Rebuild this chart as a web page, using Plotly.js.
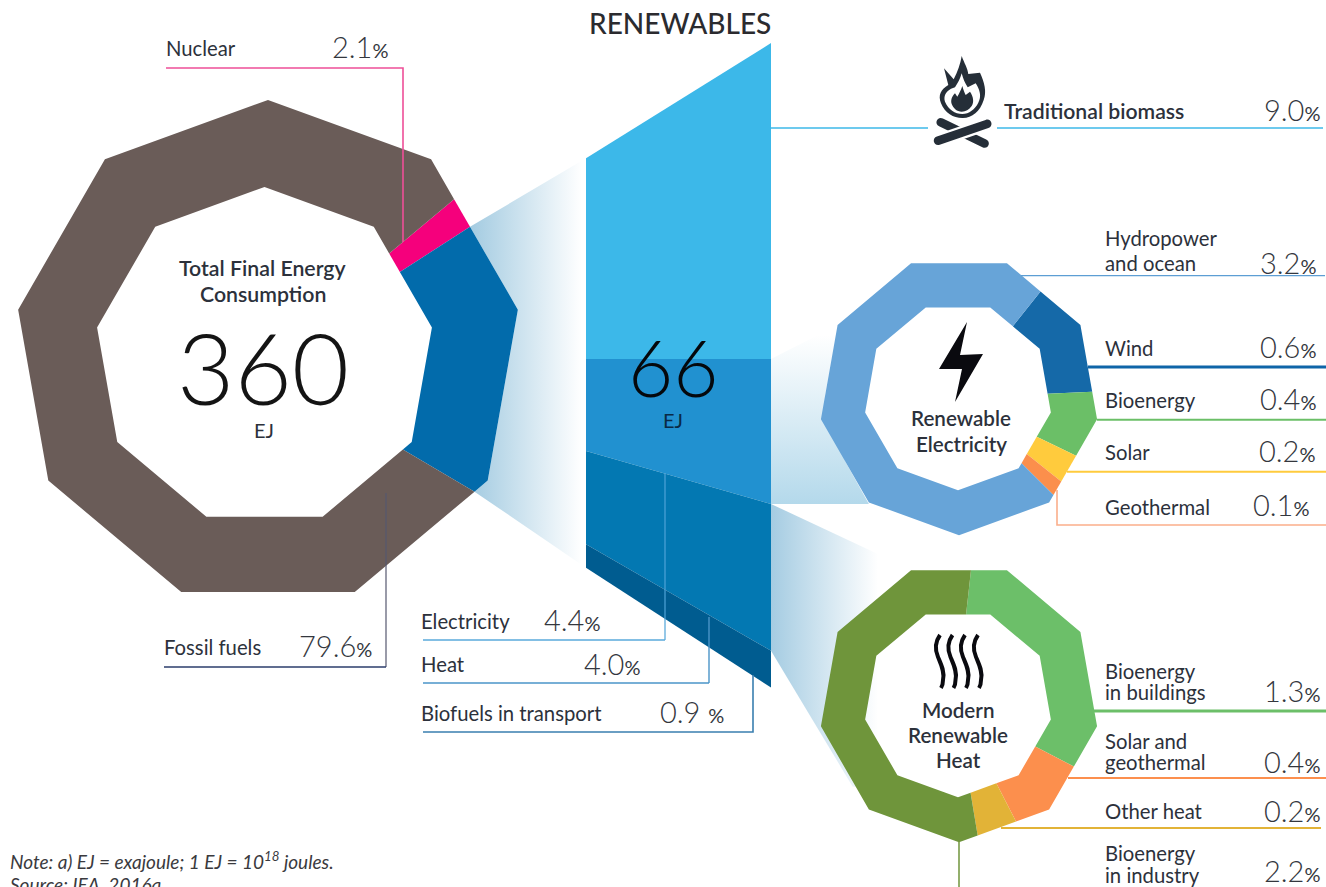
<!DOCTYPE html>
<html>
<head>
<meta charset="utf-8">
<script src="https://cdn.plot.ly/plotly-3.0.1.min.js"></script>
<style>html,body{margin:0;padding:0;background:#fff;overflow:hidden}#chart{width:1326px;height:887px}</style>
</head>
<body>
<div id="chart"></div>
<script>
// ---------- data ----------
var totalEJ = '360';
var renewablesEJ = '66';

var primaryCategories = ['Nuclear', 'Renewables', 'Fossil fuels'];
var primaryShares = [2.1, 18.3, 79.6];

var mixCategories = ['Traditional biomass', 'Renewable electricity', 'Modern renewable heat', 'Biofuels in transport'];
var mixLabels = [9.0, 4.4, 4.0, 0.9];
var mixBandSizes = [9.0, 4.13, 4.18, 1.05];

var elecCategories = ['Wind', 'Bioenergy', 'Solar', 'Geothermal', 'Hydropower and ocean'];
var elecLabels = [0.6, 0.4, 0.2, 0.1, 3.2];
var elecArcSizes = [0.63, 0.36, 0.16, 0.08, 3.27];

var heatCategories = ['Bioenergy in buildings', 'Solar and geothermal', 'Other heat', 'Bioenergy in industry'];
var heatShares = [1.3, 0.4, 0.2, 2.2];

// ---------- styles and geometry ----------
var primaryColors = ['#F5007C', '#026BAB', '#6A5C58'];
var mixColors = ['#3CB8E9', '#2191D0', '#0378B2', '#005C90'];
var elecColors = ['#1569A8', '#6BBF67', '#FFCB3D', '#FB8F4C', '#67A4D8'];
var heatColors = ['#6CBF69', '#FC8F4D', '#E2B337', '#6F953B'];

var primaryRing = {outer: {cx: 268, cy: 353.7, r: 253.7, phase: 0}, inner: {cx: 264.5, cy: 357, r: 170, phase: 0}, start: 50.3};
var elecRing = {outer: {cx: 959, cy: 395, r: 140.2, phase: 20}, inner: {cx: 958, cy: 396, r: 94.3, phase: 20}, start: 38.2};
var heatRing = {outer: {cx: 959, cy: 702, r: 140.2, phase: 20}, inner: {cx: 958, cy: 703, r: 94.3, phase: 20}, start: 5.2};

var panel = {left: 586, right: 771, anchorY: 359, leftScale: 22.3, rightScale: 35.1};

var FONT = 'Lato, "Open Sans", sans-serif';
var INK = '#2C313B';
var DIGIT = '#34373E';

// ---------- geometry helpers ----------
var N = 9, STEP = 360 / N;
function rad(d) { return d * Math.PI / 180; }
function polar(p, a) {
  var t = (((a - p.phase) % STEP) + STEP) % STEP;
  var r = p.r * Math.cos(rad(STEP / 2)) / Math.cos(rad(t - STEP / 2));
  return [p.cx + r * Math.sin(rad(a)), p.cy - r * Math.cos(rad(a))];
}
function edge(p, a0, a1) {
  var pts = [polar(p, a0)];
  var k = Math.floor((a0 - p.phase) / STEP) + 1;
  for (var v = p.phase + k * STEP; v < a1; v += STEP) {
    if (v > a0) pts.push(polar(p, v));
  }
  pts.push(polar(p, a1));
  return pts;
}
function arcAngles(ring, values) {
  var sum = values.reduce(function (a, b) { return a + b; }, 0);
  var a = ring.start;
  return values.map(function (v) {
    var s = a; a += v / sum * 360;
    return [s, a];
  });
}
function fillTrace(pts, color, name, extra) {
  var t = {
    type: 'scatter', mode: 'lines', name: name,
    x: pts.map(function (p) { return p[0]; }).concat([pts[0][0]]),
    y: pts.map(function (p) { return p[1]; }).concat([pts[0][1]]),
    fill: 'toself', fillcolor: color, line: {width: 0, color: color},
    hoverinfo: 'skip', showlegend: false
  };
  for (var k in (extra || {})) t[k] = extra[k];
  return t;
}
function ringTraces(ring, values, colors, names) {
  return arcAngles(ring, values).map(function (ang, i) {
    var o = edge(ring.outer, ang[0], ang[1]);
    var n = edge(ring.inner, ang[0], ang[1]).reverse();
    return fillTrace(o.concat(n), colors[i], names[i]);
  });
}
function gradient(kind, start, stop, from, to) {
  return {fillgradient: {type: kind, start: start, stop: stop, colorscale: [[0, from], [1, to]]}};
}

// ---------- middle panel, from the band sizes ----------
var leftY = [panel.anchorY - mixBandSizes[0] * panel.leftScale, panel.anchorY];
var rightY = [panel.anchorY - mixBandSizes[0] * panel.rightScale, panel.anchorY];
mixBandSizes.slice(1).forEach(function (v) {
  leftY.push(leftY[leftY.length - 1] + v * panel.leftScale);
  rightY.push(rightY[rightY.length - 1] + v * panel.rightScale);
});
var panelTraces = mixBandSizes.map(function (v, i) {
  return fillTrace([[panel.left, leftY[i]], [panel.right, rightY[i]], [panel.right, rightY[i + 1]], [panel.left, leftY[i + 1]]],
    mixColors[i], mixCategories[i]);
});

// ---------- connectors ----------
var primAngles = arcAngles(primaryRing, primaryShares)[1];
var primFan = edge(primaryRing.outer, primAngles[0], primAngles[1]);
var leftFunnel = fillTrace(
  primFan.concat([[panel.left, leftY[4]], [panel.left, leftY[0]]]),
  '#A6CDE2', 'Renewables connector',
  gradient('horizontal', 470, 582, '#A3CBE1', '#FFFFFF'));

var elecFan = polar(elecRing.outer, 300);
var elecFoot = polar(elecRing.outer, 220);
var elecFunnel = fillTrace(
  [[panel.right, rightY[1]], elecFan, polar(elecRing.outer, 270), polar(elecRing.outer, 240), [elecFoot[0], rightY[2]], [panel.right, rightY[2]]],
  '#B8D9EA', 'Electricity connector',
  gradient('vertical', 335, 504, '#FFFFFF', '#B4D9EB'));

var heatEnd = polar(heatRing.outer, 225);
var heatFunnel = fillTrace(
  [[panel.right, rightY[2]], [880, 555], [880, 790], [heatEnd[0] - 10, heatEnd[1] - 12], [panel.right, rightY[3]]],
  '#A8CFE4', 'Heat connector',
  gradient('horizontal', 771, 878, '#A5CCE2', '#FFFFFF'));

var traces = [leftFunnel, elecFunnel, heatFunnel]
  .concat(panelTraces)
  .concat(ringTraces(primaryRing, primaryShares, primaryColors, primaryCategories))
  .concat(ringTraces(elecRing, elecArcSizes, elecColors, elecCategories))
  .concat(ringTraces(heatRing, heatShares, heatColors, heatCategories));

// ---------- leader lines ----------
var shapes = [];
function leader(d, color, w) {
  shapes.push({type: 'path', path: d, line: {color: color, width: w}, xref: 'x', yref: 'y'});
}
leader('M166,68 L403,68 L403,242', '#EE4F98', 1.6);
leader('M386,493 L386,667', '#55586F', 1.2);
leader('M164,667 L386,667', '#2B3D6B', 1.4);
leader('M665,473 L665,640', '#4FA3D8', 1.2);
leader('M423,640 L665,640', '#5AAADB', 1.6);
leader('M709,617 L709,683', '#4A94C8', 1.4);
leader('M423,683 L709,683', '#4A94C8', 1.6);
leader('M423,732 L753,732 L753,675', '#3A7FB0', 1.6);
leader('M771,128 L928,128', '#3CB8E9', 1.4);
leader('M997,128 L1323,128', '#3CB8E9', 1.4);
leader('M1021,275.7 L1325,275.7', '#5D9ED4', 1.2);
leader('M1088,367 L1326,367', '#0E65A8', 3);
leader('M1097,419.7 L1326,419.7', '#6BBF67', 2);
leader('M1067,471.7 L1326,471.7', '#FFCB3D', 2);
leader('M1057,490 L1057,525 L1326,525', '#FBAE8B', 1.6);
leader('M1094,711 L1326,711', '#6CBF69', 3);
leader('M1068,778 L1326,778', '#FC8F4D', 2);
leader('M1001,828 L1321,828', '#E2B337', 2);
leader('M959,842 L959,887', '#6F953B', 1.5);

// ---------- icons ----------
function solid(d, color) {
  shapes.push({type: 'path', path: d, fillcolor: color, line: {width: 0}, xref: 'x', yref: 'y'});
}
// bolt
solid('M967,322 L960,355 L983,354 L955,402 L962,369 L939,369 Z', '#0A0A0F');
// heat waves
[940, 952.5, 965, 978].forEach(function (x) {
  var d = 'M' + x + ',635 C' + (x - 5) + ',642 ' + (x - 5) + ',650 ' + (x - 2) + ',657' +
          ' C' + (x + 1) + ',664 ' + (x + 5) + ',672 ' + (x + 3) + ',680 Q' + (x + 3) + ',685 ' + (x + 1) + ',688';
  shapes.push({type: 'path', path: d, line: {color: '#0A0A0F', width: 4}, xref: 'x', yref: 'y'});
});
// campfire (drawn in a 3x local grid)
function fire(d) {
  return d.replace(/(-?[\d.]+),(-?[\d.]+)/g, function (m, a, b) {
    return (925 + a / 3).toFixed(1) + ',' + (50 + b / 3).toFixed(1);
  });
}
function bar(x0, y0, x1, y1, t) {
  var dx = x1 - x0, dy = y1 - y0, L = Math.sqrt(dx * dx + dy * dy);
  var ux = dx / L, uy = dy / L, nx = -uy * t / 2, ny = ux * t / 2, c = t * 0.7;
  return fire('M' + (x0 + nx) + ',' + (y0 + ny) + ' L' + (x1 + nx) + ',' + (y1 + ny) +
    ' C' + (x1 + nx + ux * c) + ',' + (y1 + ny + uy * c) + ' ' + (x1 - nx + ux * c) + ',' + (y1 - ny + uy * c) + ' ' + (x1 - nx) + ',' + (y1 - ny) +
    ' L' + (x0 - nx) + ',' + (y0 - ny) +
    ' C' + (x0 - nx - ux * c) + ',' + (y0 - ny - uy * c) + ' ' + (x0 + nx - ux * c) + ',' + (y0 + ny - uy * c) + ' ' + (x0 + nx) + ',' + (y0 + ny) + ' Z');
}
var FIRE = '#252E38';
solid(fire('M110,18 C118,40 128,55 130,72 L165,68 C178,95 186,125 176,150 C165,185 140,205 112,204 C85,204 60,190 48,160 C38,135 48,118 70,105 L57,55 L86,88 C98,65 106,42 110,18 Z'), FIRE);
solid(fire('M110,70 C114,85 120,100 128,112 L152,100 C165,120 170,140 160,158 C150,178 132,192 112,192 C90,192 70,178 60,155 C55,138 62,125 78,116 L90,112 C98,100 106,85 110,70 Z'), '#FFFFFF');
solid(fire('M112,108 C115,118 118,128 122,135 L135,125 C145,140 148,155 140,168 C132,180 122,185 110,185 C96,185 85,175 80,162 C76,150 82,138 90,130 L97,140 C103,130 108,120 112,108 Z'), FIRE);
solid(bar(48, 217, 178, 280, 26), FIRE);
solid(bar(40, 272, 186, 222, 40), '#FFFFFF');
solid(bar(40, 272, 186, 222, 26), FIRE);

// ---------- text ----------
var notes = [];
function txt(text, x, y, size, anchor, color, weight) {
  notes.push({
    text: text, x: x, y: y, xref: 'x', yref: 'y', showarrow: false,
    xanchor: anchor, yanchor: 'middle', align: anchor,
    font: {family: FONT, size: size, color: color || INK, weight: weight || 400}
  });
}
function pct(v, x, y, gap) {
  txt(v.toFixed(1) + (gap ? '&nbsp;' : '') + '<span style="font-size:20px;font-weight:400">%</span>', x, y, 29, 'right', DIGIT, 300);
}
var LBL = 20.3;
txt('RENEWABLES', 680, 23, 28, 'center', '#2B2B2F', 500);
txt('Total Final Energy', 263, 268, 21.3, 'center', INK, 600);
txt('Consumption', 263, 294, 21.3, 'center', INK, 600);
txt(totalEJ, 263, 366, 99, 'center', '#141414', 300);
txt('EJ', 264, 430, 20, 'center', INK, 400);
txt(renewablesEJ, 673, 367, 78, 'center', '#05080C', 300);
txt('EJ', 673, 420, 20, 'center', '#0A2A45', 400);
txt('Renewable', 961, 418, 20.6, 'center', INK, 600);
txt('Electricity', 961, 444, 20.6, 'center', INK, 600);
txt('Modern', 958, 710, 20.6, 'center', INK, 600);
txt('Renewable', 958, 735, 20.6, 'center', INK, 600);
txt('Heat', 958, 760, 20.6, 'center', INK, 600);

txt('Nuclear', 163.5, 48, LBL, 'left');
pct(primaryShares[0], 390, 46);
txt('Fossil fuels', 161.5, 647, LBL, 'left');
pct(primaryShares[2], 374, 645);
txt('Electricity', 418.5, 621, LBL, 'left');
pct(mixLabels[1], 602, 619);
txt('Heat', 418.5, 664, LBL, 'left');
pct(mixLabels[2], 642, 663);
txt('Biofuels in transport', 418.5, 713, LBL, 'left');
pct(mixLabels[3], 726, 711, true);
txt('Traditional biomass', 1002, 111, 21.2, 'left', INK, 600);
pct(mixLabels[0], 1322, 109);

txt('Hydropower', 1102.5, 238, LBL, 'left');
txt('and ocean', 1102.5, 263, LBL, 'left');
pct(elecLabels[4], 1318, 262);
txt('Wind', 1102.5, 348, LBL, 'left');
pct(elecLabels[0], 1318, 346);
txt('Bioenergy', 1102.5, 400, LBL, 'left');
pct(elecLabels[1], 1318, 398);
txt('Solar', 1102.5, 452, LBL, 'left');
pct(elecLabels[2], 1317, 450);
txt('Geothermal', 1102.5, 507, LBL, 'left');
pct(elecLabels[3], 1311, 504);

txt('Bioenergy', 1102.5, 671, LBL, 'left');
txt('in buildings', 1102.5, 692, LBL, 'left');
pct(heatShares[0], 1322, 690);
txt('Solar and', 1102.5, 741, LBL, 'left');
txt('geothermal', 1102.5, 762, LBL, 'left');
pct(heatShares[1], 1322, 761);
txt('Other heat', 1102.5, 811, LBL, 'left');
pct(heatShares[2], 1322, 810);
txt('Bioenergy', 1102.5, 853, LBL, 'left');
txt('in industry', 1102.5, 875, LBL, 'left');
pct(heatShares[3], 1322, 870);

txt('<i>Note: a) EJ = exajoule; 1 EJ = 10<sup>18</sup> joules.</i>', 8, 860, 19, 'left', '#3A3A3E');
txt('<i>Source: IEA, 2016a.</i>', 8, 884, 19, 'left', '#3A3A3E');

// ---------- draw ----------
Plotly.newPlot('chart', traces, {
  width: 1326, height: 887,
  margin: {l: 0, r: 0, t: 0, b: 0, pad: 0},
  paper_bgcolor: '#FFFFFF', plot_bgcolor: '#FFFFFF',
  showlegend: false,
  xaxis: {range: [0, 1326], visible: false, fixedrange: true},
  yaxis: {range: [887, 0], visible: false, fixedrange: true},
  shapes: shapes, annotations: notes,
  hovermode: false
}, {displayModeBar: false, staticPlot: true});
</script>
</body>
</html>
